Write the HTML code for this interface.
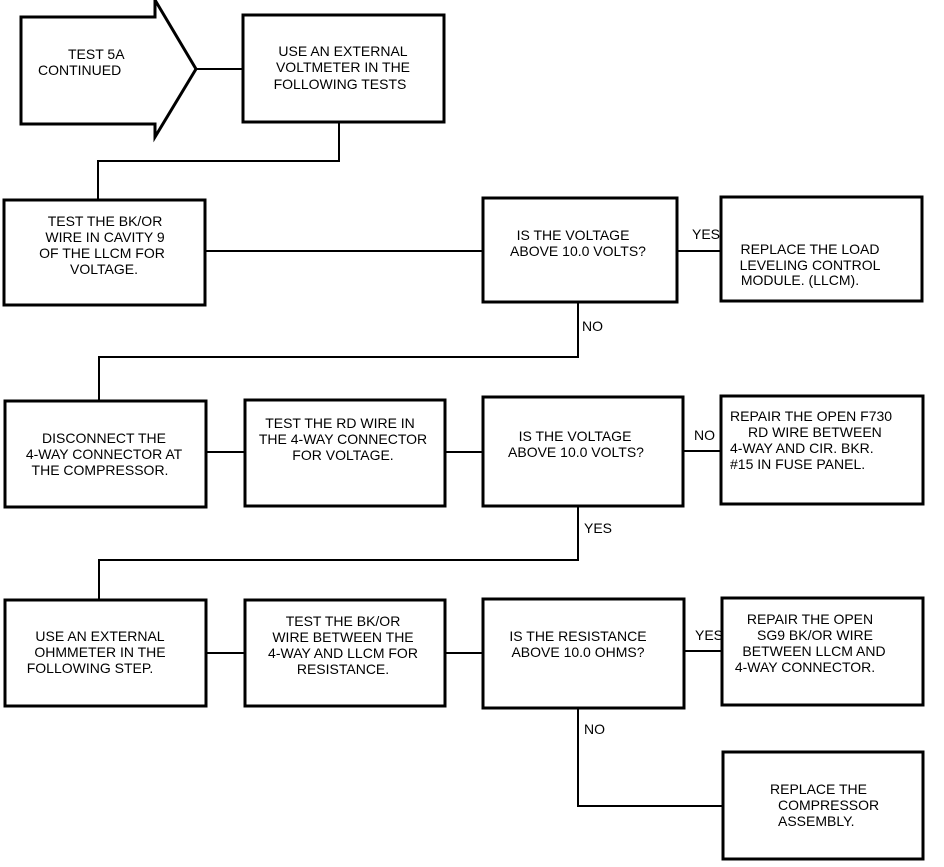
<!DOCTYPE html>
<html><head><meta charset="utf-8"><style>
html,body{margin:0;padding:0;background:#fff;}
svg text{font-family:"Liberation Sans Narrow","Liberation Sans",sans-serif;font-size:14px;fill:#000;}
</style></head><body>
<svg width="944" height="862" viewBox="0 0 944 862" xmlns="http://www.w3.org/2000/svg">
<g fill="none" stroke="#000" stroke-width="3">
<polygon points="21,17 155,17 155,0 196,69 155,137 155,124 21,124"/>
<rect x="243" y="15" width="201" height="107"/>
<rect x="4" y="200" width="201" height="105"/>
<rect x="483" y="198" width="194" height="104"/>
<rect x="721" y="197" width="201" height="104"/>
<rect x="5" y="401" width="201" height="106"/>
<rect x="245" y="400" width="200" height="106"/>
<rect x="483" y="397" width="200" height="109"/>
<rect x="721" y="396" width="202" height="108"/>
<rect x="5" y="600" width="201" height="106"/>
<rect x="245" y="600" width="200" height="106"/>
<rect x="483" y="599" width="201" height="109"/>
<rect x="722" y="598" width="201" height="107"/>
<rect x="723" y="752" width="200" height="107"/>
</g>
<g fill="none" stroke="#000" stroke-width="2">
<polyline points="196,69 243,69"/>
<polyline points="339,122 339,161 98,161 98,200"/>
<polyline points="205,251 483,251"/>
<polyline points="677,251 721,251"/>
<polyline points="578,302 578,357 99,357 99,401"/>
<polyline points="206,452 245,452"/>
<polyline points="445,452 483,452"/>
<polyline points="683,451 721,451"/>
<polyline points="578,506 578,560 99,560 99,600"/>
<polyline points="206,653 245,653"/>
<polyline points="445,653 483,653"/>
<polyline points="684,651 722,651"/>
<polyline points="578,708 578,806 723,806"/>
</g>
<g>
<text x="68" y="59">TEST 5A</text>
<text x="38" y="75">CONTINUED</text>
<text x="343" y="56" text-anchor="middle">USE AN EXTERNAL</text>
<text x="343" y="72" text-anchor="middle">VOLTMETER IN THE</text>
<text x="340" y="89" text-anchor="middle">FOLLOWING TESTS</text>
<text x="105" y="226" text-anchor="middle">TEST THE BK/OR</text>
<text x="105" y="242" text-anchor="middle">WIRE IN CAVITY 9</text>
<text x="102" y="258" text-anchor="middle">OF THE LLCM FOR</text>
<text x="104" y="274" text-anchor="middle">VOLTAGE.</text>
<text x="573" y="240" text-anchor="middle">IS THE VOLTAGE</text>
<text x="578" y="256" text-anchor="middle">ABOVE 10.0 VOLTS?</text>
<text x="692" y="239">YES</text>
<text x="810" y="254" text-anchor="middle">REPLACE THE LOAD</text>
<text x="810" y="270" text-anchor="middle">LEVELING CONTROL</text>
<text x="800" y="285" text-anchor="middle">MODULE. (LLCM).</text>
<text x="582" y="331">NO</text>
<text x="104" y="443" text-anchor="middle">DISCONNECT THE</text>
<text x="104" y="459" text-anchor="middle">4-WAY CONNECTOR AT</text>
<text x="100" y="475" text-anchor="middle">THE COMPRESSOR.</text>
<text x="340" y="428" text-anchor="middle">TEST THE RD WIRE IN</text>
<text x="343" y="444" text-anchor="middle">THE 4-WAY CONNECTOR</text>
<text x="343" y="460" text-anchor="middle">FOR VOLTAGE.</text>
<text x="575" y="441" text-anchor="middle">IS THE VOLTAGE</text>
<text x="576" y="457" text-anchor="middle">ABOVE 10.0 VOLTS?</text>
<text x="694" y="440">NO</text>
<text x="730" y="421">REPAIR THE OPEN F730</text>
<text x="748" y="437">RD WIRE BETWEEN</text>
<text x="730" y="453">4-WAY AND CIR. BKR.</text>
<text x="730" y="469">#15 IN FUSE PANEL.</text>
<text x="584" y="533">YES</text>
<text x="100" y="641" text-anchor="middle">USE AN EXTERNAL</text>
<text x="100" y="657" text-anchor="middle">OHMMETER IN THE</text>
<text x="90" y="673" text-anchor="middle">FOLLOWING STEP.</text>
<text x="343" y="626" text-anchor="middle">TEST THE BK/OR</text>
<text x="343" y="642" text-anchor="middle">WIRE BETWEEN THE</text>
<text x="343" y="658" text-anchor="middle">4-WAY AND LLCM FOR</text>
<text x="343" y="674" text-anchor="middle">RESISTANCE.</text>
<text x="578" y="641" text-anchor="middle">IS THE RESISTANCE</text>
<text x="578" y="657" text-anchor="middle">ABOVE 10.0 OHMS?</text>
<text x="695" y="640">YES</text>
<text x="810" y="624" text-anchor="middle">REPAIR THE OPEN</text>
<text x="815" y="640" text-anchor="middle">SG9 BK/OR WIRE</text>
<text x="814" y="656" text-anchor="middle">BETWEEN LLCM AND</text>
<text x="805" y="672" text-anchor="middle">4-WAY CONNECTOR.</text>
<text x="584" y="734">NO</text>
<text x="770" y="794">REPLACE THE</text>
<text x="778" y="810">COMPRESSOR</text>
<text x="778" y="826">ASSEMBLY.</text>
</g>
</svg>
</body></html>
